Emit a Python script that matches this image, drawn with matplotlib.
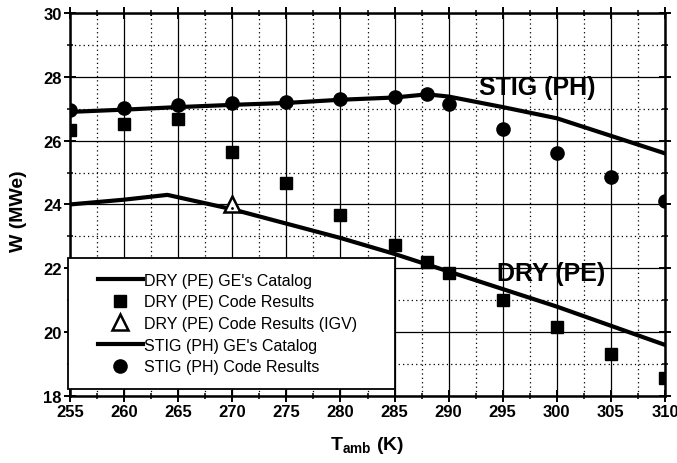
import matplotlib.pyplot as plt
from matplotlib.patches import Rectangle
from matplotlib.ticker import MultipleLocator

plt.rcParams['font.family'] = ['Liberation Sans', 'DejaVu Sans']
plt.rcParams['mathtext.fontset'] = 'custom'
plt.rcParams['mathtext.rm'] = 'Liberation Sans:bold'
plt.rcParams['mathtext.bf'] = 'Liberation Sans:bold'
plt.rcParams['mathtext.default'] = 'bf'

# DRY (PE) - GE catalog curve and code results
dry_cat_t = [255, 260, 264, 270, 275, 280, 285, 290, 295, 300, 305, 310]
dry_cat_w = [24.0, 24.15, 24.3, 23.85, 23.4, 22.95, 22.45, 21.9, 21.35, 20.8, 20.2, 19.6]
dry_code_t = [255, 260, 265, 270, 275, 280, 285, 288, 290, 295, 300, 305, 310]
dry_code_w = [26.33, 26.52, 26.69, 25.65, 24.66, 23.67, 22.73, 22.2, 21.84, 21.0, 20.17, 19.33, 18.55]
dry_igv_t = [270]
dry_igv_w = [24.0]

# STIG (PH) - GE catalog curve and code results
stig_cat_t = [255, 260, 265, 270, 275, 280, 285, 288, 290, 295, 300, 305, 310]
stig_cat_w = [26.9, 26.97, 27.05, 27.12, 27.18, 27.28, 27.35, 27.45, 27.38, 27.05, 26.7, 26.15, 25.6]
stig_code_t = [255, 260, 265, 270, 275, 280, 285, 288, 290, 295, 300, 305, 310]
stig_code_w = [26.96, 27.02, 27.12, 27.18, 27.22, 27.3, 27.36, 27.46, 27.15, 26.36, 25.6, 24.85, 24.12]

fig = plt.figure(figsize=(6.77, 4.64), dpi=100)
ax = fig.add_axes([0.1034, 0.1444, 0.8789, 0.8256])

l1, = ax.plot(dry_cat_t, dry_cat_w, color='black', lw=3, zorder=3)
l2, = ax.plot(dry_code_t, dry_code_w, 's', color='black', ms=8.5, zorder=4)
l3, = ax.plot(dry_igv_t, dry_igv_w, '^', mfc='white', mec='black', mew=1.8, ms=11, zorder=5)
ax.plot(dry_igv_t, [w - 0.12 for w in dry_igv_w], '.', color='black', ms=2, zorder=6)
l4, = ax.plot(stig_cat_t, stig_cat_w, color='black', lw=3, zorder=3)
l5, = ax.plot(stig_code_t, stig_code_w, 'o', color='black', ms=9.5, zorder=4)

ax.text(298.2, 27.68, 'STIG (PH)', fontsize=18, fontweight='bold', ha='center', va='center')
ax.text(299.5, 21.85, 'DRY (PE)', fontsize=18, fontweight='bold', ha='center', va='center')

ax.set_xlim(255, 310)
ax.set_ylim(18, 30)
ax.xaxis.set_major_locator(MultipleLocator(5))
ax.xaxis.set_minor_locator(MultipleLocator(2.5))
ax.yaxis.set_major_locator(MultipleLocator(2))
ax.yaxis.set_minor_locator(MultipleLocator(1))
ax.grid(True, which='major', color='black', lw=0.9)
ax.grid(True, which='minor', color='black', lw=0.9, linestyle=(0, (1, 2.5)))
ax.tick_params(which='major', direction='inout', length=8, width=1.4,
               top=True, right=True, labelsize=12, pad=2)
ax.tick_params(which='minor', direction='inout', length=4, width=1.1,
               top=True, right=True)
for lab in ax.get_xticklabels() + ax.get_yticklabels():
    lab.set_fontweight('bold')
for sp in ax.spines.values():
    sp.set_linewidth(1.8)

ax.set_xlabel('T$_{amb}$ (K)', fontsize=14, fontweight='bold')
ax.xaxis.set_label_coords(0.5, -0.1)
ax.set_ylabel('W (MWe)', fontsize=14, fontweight='bold')
ax.yaxis.set_label_coords(-0.072, 0.485)

box = Rectangle((-0.003, 0.018), 0.55, 0.342, transform=ax.transAxes,
                facecolor='white', edgecolor='black', lw=1.3, zorder=7, clip_on=False)
ax.add_patch(box)
leg = ax.legend([l1, l2, l3, l4, l5],
                ['DRY (PE) GE\'s Catalog', 'DRY (PE) Code Results',
                 'DRY (PE) Code Results (IGV)', 'STIG (PH) GE\'s Catalog',
                 'STIG (PH) Code Results'],
                loc='upper left', bbox_to_anchor=(0.047, 0.322), frameon=False,
                borderpad=0, borderaxespad=0, handlelength=2.8, handletextpad=0.1,
                labelspacing=0.42, fontsize=11.5)
leg.set_zorder(8)

fig.savefig('out.png', dpi=100)
